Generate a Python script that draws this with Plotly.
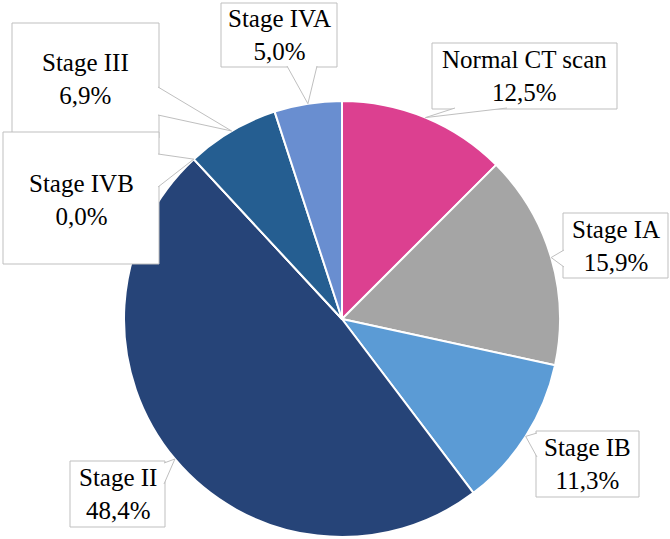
import math
import plotly.graph_objects as go

# ---- data ----
labels = ["Normal CT scan", "Stage IA", "Stage IB", "Stage II", "Stage IVB", "Stage III", "Stage IVA"]
values = [12.5, 15.9, 11.3, 48.4, 0.0, 6.9, 5.0]
value_text = ["12,5%", "15,9%", "11,3%", "48,4%", "0,0%", "6,9%", "5,0%"]
colors = ["#DC4090", "#A5A5A5", "#5B9BD5", "#264478", "#9E480E", "#255E91", "#698ED0"]

# ---- layout (pixels) ----
W, H = 670, 539
CX, CY, R = 342, 319, 218
FONT = "Liberation Serif"

# callout boxes: (left, top, right, bottom), wedge side & base span
boxes = {
    "Normal CT scan": ((432, 43, 617, 109), "bottom", (455, 507)),
    "Stage IA": ((563, 213, 668, 278), "left", (250, 267)),
    "Stage IB": ((536, 431, 639, 497), "left", (433, 457)),
    "Stage II": ((70, 461, 165, 527), "right", (463, 484)),
    "Stage III": ((12, 23, 159, 138), "right", (87, 115)),
    "Stage IVB": ((3, 132, 159, 264), "right", (154, 187)),
    "Stage IVA": ((221, 3, 337, 67), "bottom", (287, 317)),
}
text_centers = {
    "Stage III": (85.5, 79),
    "Stage IVB": (81, 200),
}
draw_order = ["Stage IVA", "Stage III", "Stage IVB", "Normal CT scan", "Stage IA", "Stage IB", "Stage II"]

def px(x):
    return x / W

def py(y):
    return 1 - y / H

fig = go.Figure(go.Pie(
    labels=labels, values=values, sort=False, direction="clockwise", rotation=0,
    marker=dict(colors=colors, line=dict(color="white", width=2)),
    textinfo="none", hoverinfo="label+percent", showlegend=False,
    domain=dict(x=[px(CX - R), px(CX + R)], y=[py(CY + R), py(CY - R)]),
))

# tip positions from data (mid-angle of each slice on the rim)
total = sum(values)
tips = {}
cum = 0.0
for lab, v in zip(labels, values):
    mid = (cum + v / 2) / total * 2 * math.pi
    tips[lab] = (CX + R * math.sin(mid), CY - R * math.cos(mid))
    cum += v

shapes = []
annotations = []
border = "#BFBFBF"
for lab in draw_order:
    (l, t, r, b), side, (s0, s1) = boxes[lab]
    shapes.append(dict(type="rect", xref="paper", yref="paper",
                       x0=px(l), x1=px(r), y0=py(b), y1=py(t),
                       fillcolor="white", line=dict(color=border, width=1), layer="above"))
    tx, ty = tips[lab]
    if side == "bottom":
        p0, p1 = (s0, b - 1), (s1, b - 1)
    elif side == "left":
        p0, p1 = (l + 1, s0), (l + 1, s1)
    else:
        p0, p1 = (r - 1, s0), (r - 1, s1)
    path = f"M {px(p0[0])},{py(p0[1])} L {px(tx)},{py(ty)} L {px(p1[0])},{py(p1[1])}"
    shapes.append(dict(type="path", xref="paper", yref="paper", path=path,
                       fillcolor="white", line=dict(color=border, width=1), layer="above"))
    cx, cy = text_centers.get(lab, ((l + r) / 2, (t + b) / 2))
    i = labels.index(lab)
    annotations.append(dict(x=px(cx), y=py(cy), xref="paper", yref="paper",
                            text=lab + "<br>" + value_text[i], showarrow=False,
                            xanchor="center", yanchor="middle",
                            font=dict(family=FONT, size=25, color="#000000")))

fig.update_layout(
    width=W, height=H, margin=dict(l=0, r=0, t=0, b=0),
    paper_bgcolor="white", plot_bgcolor="white",
    font=dict(family=FONT),
    shapes=shapes, annotations=annotations, showlegend=False,
)
fig.write_html("out.html")
